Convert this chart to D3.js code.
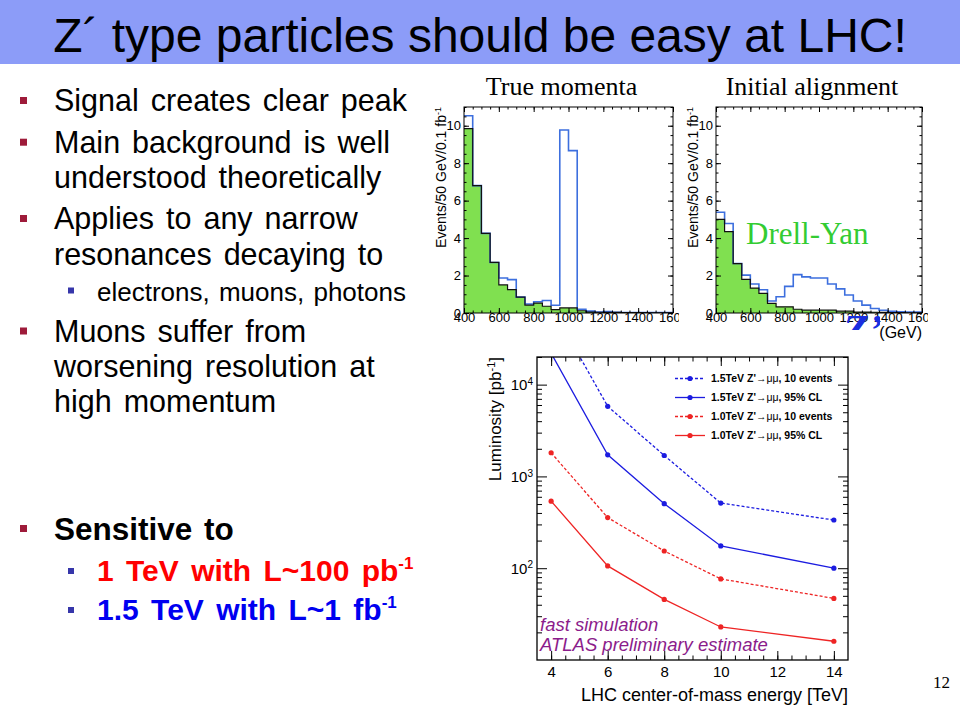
<!DOCTYPE html>
<html>
<head>
<meta charset="utf-8">
<script src="https://cdn.jsdelivr.net/npm/d3@7"></script>
<style>
body { margin: 0; background: #fff; }
svg { display: block; }
</style>
</head>
<body>
<script>
// ---- data ----
// lower bin edges of the mass histograms (GeV), 50 GeV bins
var massBins = [400,450,500,550,600,650,700,750,800,850,900,950,1000,1050,1100,1150,1200,1250,1300,1350,1400,1450,1500,1550];
// "True momenta": Drell-Yan background and background + Z' signal
var trueBg    = [9.85,6.8,4.25,2.7,1.5,1.25,0.85,0.42,0.53,0.36,0.18,0.27,0.27,0.12,0.05,0.04,0.03,0.03,0.02,0.02,0.02,0.01,0.01,0.01];
var trueTotal = [10.53,6.8,4.25,2.7,1.87,1.78,0.85,0.48,0.6,0.67,0.41,9.77,8.67,0.2,0.1,0.05,0.08,0.04,0.03,0.03,0.03,0.02,0.02,0.02];
// "Initial alignment"
var alignBg    = [5.0,4.35,2.64,1.8,1.33,1.05,0.51,0.33,0.33,0.2,0.15,0.15,0.15,0.15,0.1,0.1,0.05,0.05,0.04,0.03,0.02,0.02,0.01,0.01];
var alignTotal = [5.38,4.78,2.64,2.02,1.55,1.24,0.64,0.87,1.42,2.05,1.93,1.87,1.87,1.55,1.29,0.96,0.64,0.42,0.24,0.15,0.09,0.06,0.05,0.05];

// luminosity needed vs LHC energy
var energies   = [4,6,8,10,14];
var lumi15ev   = [72000,5810,1690,513,335];
var lumi15cl   = [22000,1720,505,175,100];
var lumi10ev   = [1810,356,154,76.5,46.9];
var lumi10cl   = [538,106,45.7,22.9,16];
var lumiSeries = [
  {mass:'1.5TeV', what:', 10 events', vals:lumi15ev, color:'#1c1ce0', dash:'3,2'},
  {mass:'1.5TeV', what:', 95% CL',    vals:lumi15cl, color:'#1c1ce0', dash:null},
  {mass:'1.0TeV', what:', 10 events', vals:lumi10ev, color:'#ee2424', dash:'3,2'},
  {mass:'1.0TeV', what:', 95% CL',    vals:lumi10cl, color:'#ee2424', dash:null}
];

var SANS = 'Liberation Sans, Arial, sans-serif';
var SERIF = 'Liberation Serif, Times New Roman, serif';

var svg = d3.select('body').append('svg').attr('width', 960).attr('height', 720);
var defs = svg.append('defs');

// ---- title bar ----
svg.append('rect').attr('width', 960).attr('height', 64).attr('fill', '#8c9cf8');
svg.append('text').attr('x', 480).attr('y', 52).attr('text-anchor', 'middle')
  .attr('font-family', SANS).attr('font-size', 48).attr('fill', '#000')
  .text('Z\u00b4 type particles should be easy at LHC!');

// ---- bullet list ----
var bullets = [
  {lvl:1, text:'Signal creates clear peak'},
  {lvl:1, text:'Main background is well'},
  {lvl:0, text:'understood theoretically'},
  {lvl:1, text:'Applies to any narrow'},
  {lvl:0, text:'resonances decaying to'},
  {lvl:2, text:'electrons, muons, photons'},
  {lvl:1, text:'Muons suffer from'},
  {lvl:0, text:'worsening resolution at'},
  {lvl:0, text:'high momentum'}
];
var bulletY = [111,152.7,188,229,264.5,300.5,341.5,377,412];

var bl = svg.append('g').attr('font-family', SANS).attr('fill', '#000');
bullets.forEach(function(b, i) {
  var y = bulletY[i];
  if (b.lvl == 1) bl.append('rect').attr('x', 20).attr('y', y - 14).attr('width', 7).attr('height', 7).attr('fill', '#9e1b3a');
  if (b.lvl == 2) bl.append('rect').attr('x', 68).attr('y', y - 13).attr('width', 6).attr('height', 6).attr('fill', '#3636aa');
  bl.append('text').attr('x', b.lvl == 2 ? 97 : 54).attr('y', y)
    .attr('font-size', b.lvl == 2 ? 26 : 30.5).attr('word-spacing', b.lvl == 2 ? 2 : 3.5).text(b.text);
});

// "Sensitive to" block
bl.append('rect').attr('x', 20).attr('y', 525).attr('width', 7).attr('height', 7).attr('fill', '#9e1b3a');
bl.append('text').attr('x', 54).attr('y', 540).attr('font-size', 31.5).attr('font-weight', 'bold')
  .attr('word-spacing', 3).text('Sensitive to');
var sens = [
  {text:'1 TeV with L~100 pb', sup:'-1', color:'#ff0000', y:581},
  {text:'1.5 TeV with L~1 fb', sup:'-1', color:'#0000f0', y:620}
];
sens.forEach(function(s) {
  bl.append('rect').attr('x', 68).attr('y', s.y - 13).attr('width', 6).attr('height', 6).attr('fill', '#3636aa');
  var t = bl.append('text').attr('x', 97).attr('y', s.y).attr('font-size', 30).attr('font-weight', 'bold')
    .attr('word-spacing', 4).attr('fill', s.color);
  t.append('tspan').text(s.text);
  t.append('tspan').attr('dy', -12).attr('font-size', 17).text(s.sup);
});

// page number
svg.append('text').attr('x', 950).attr('y', 688).attr('text-anchor', 'end')
  .attr('font-family', SERIF).attr('font-size', 17).text('12');

// ---- mass histograms ----
function drawHist(id, x0, x1, bg, total, title, clipRight) {
  var x = d3.scaleLinear().domain([400, 1600]).range([x0, x1]);
  var y = d3.scaleLinear().domain([0, 11]).range([313, 107]);

  defs.append('clipPath').attr('id', 'frame' + id).append('rect')
    .attr('x', x0).attr('y', 107).attr('width', x1 - x0).attr('height', 206);
  defs.append('clipPath').attr('id', 'cut' + id).append('rect')
    .attr('x', x0 - 60).attr('y', 60).attr('width', clipRight - x0 + 60).attr('height', 300);

  var g = svg.append('g').attr('clip-path', 'url(#cut' + id + ')');

  svg.append('text').attr('x', (x0 + x1) / 2 - 7).attr('y', 95).attr('text-anchor', 'middle')
    .attr('font-family', SERIF).attr('font-size', 26).text(title);

  function pts(vals) {
    var p = massBins.map(function(b, i) { return [b, vals[i]]; });
    p.push([1600, vals[vals.length - 1]]);
    return p;
  }
  var plot = g.append('g').attr('clip-path', 'url(#frame' + id + ')');
  plot.append('path').datum(pts(bg))
    .attr('d', d3.area().curve(d3.curveStepAfter).x(function(d) { return x(d[0]); }).y0(y(0)).y1(function(d) { return y(d[1]); }))
    .attr('fill', '#80e050');
  var line = d3.line().curve(d3.curveStepAfter).x(function(d) { return x(d[0]); }).y(function(d) { return y(d[1]); });
  plot.append('path').datum(pts(total)).attr('d', line).attr('fill', 'none').attr('stroke', '#3d6fde').attr('stroke-width', 1.6);
  plot.append('path').datum(pts(bg)).attr('d', line).attr('fill', 'none').attr('stroke', '#111').attr('stroke-width', 1.2);

  // axes with inward ROOT-like ticks
  var majorX = [400,600,800,1000,1200,1400,1600];
  var minorX = massBins.concat([1600]);
  var majorY = [0,2,4,6,8,10];
  var minorY = d3.range(0, 11.01, 0.5);
  function ax(sel) { sel.select('.domain').remove(); sel.attr('font-family', SANS).attr('font-size', 13); sel.selectAll('line').attr('stroke', '#000'); }
  g.append('g').attr('transform', 'translate(0,313)').call(d3.axisBottom(x).tickValues(majorX).tickSize(-5).tickPadding(0).tickFormat(d3.format('d'))).call(ax);
  g.append('g').attr('transform', 'translate(0,313)').call(d3.axisBottom(x).tickValues(minorX).tickSize(-2.5).tickFormat('')).call(ax);
  g.append('g').attr('transform', 'translate(0,107)').call(d3.axisTop(x).tickValues(majorX).tickSize(-5).tickFormat('')).call(ax);
  g.append('g').attr('transform', 'translate(0,107)').call(d3.axisTop(x).tickValues(minorX).tickSize(-2.5).tickFormat('')).call(ax);
  g.append('g').attr('transform', 'translate(' + x0 + ',0)').call(d3.axisLeft(y).tickValues(majorY).tickSize(-5).tickPadding(3)).call(ax);
  g.append('g').attr('transform', 'translate(' + x0 + ',0)').call(d3.axisLeft(y).tickValues(minorY).tickSize(-2.5).tickFormat('')).call(ax);
  g.append('g').attr('transform', 'translate(' + x1 + ',0)').call(d3.axisRight(y).tickValues(majorY).tickSize(-5).tickFormat('')).call(ax);
  g.append('g').attr('transform', 'translate(' + x1 + ',0)').call(d3.axisRight(y).tickValues(minorY).tickSize(-2.5).tickFormat('')).call(ax);

  g.append('rect').attr('x', x0).attr('y', 107).attr('width', x1 - x0).attr('height', 206)
    .attr('fill', 'none').attr('stroke', '#000').attr('stroke-width', 1);

  var yl = g.append('text').attr('transform', 'translate(' + (x0 - 18) + ',107) rotate(-90)')
    .attr('text-anchor', 'end').attr('font-family', SANS).attr('font-size', 14);
  yl.append('tspan').text('Events/50 GeV/0.1 fb');
  yl.append('tspan').attr('dy', -5).attr('font-size', 9).text('-1');
  return g;
}

drawHist(1, 464, 673, trueBg, trueTotal, 'True momenta', 679);
drawHist(2, 716, 922, alignBg, alignTotal, 'Initial alignment', 928);

svg.append('text').attr('x', 746).attr('y', 244).attr('font-family', SERIF).attr('font-size', 31)
  .attr('fill', '#33cc33').text('Drell-Yan');
svg.append('text').attr('x', 922).attr('y', 338).attr('text-anchor', 'end')
  .attr('font-family', SANS).attr('font-size', 16).text('(GeV)');
defs.append('clipPath').attr('id', 'zcut').append('rect').attr('x', 840).attr('y', 314).attr('width', 40).attr('height', 16);
svg.append('text').attr('x', 843).attr('y', 344).attr('clip-path', 'url(#zcut)')
  .attr('font-family', SERIF).attr('font-style', 'italic').attr('font-weight', 'bold')
  .attr('font-size', 42).attr('fill', '#1a2ee0').text('Z\u2019');

// ---- luminosity plot ----
var L = {x0: 537, x1: 848, y0: 357, y1: 660};
var lx = d3.scaleLinear().domain([3.5, 14.5]).range([L.x0, L.x1]);
var ly = d3.scaleLog().domain([10, 2e4]).range([L.y1, L.y0]);

defs.append('clipPath').attr('id', 'lumiframe').append('rect')
  .attr('x', L.x0).attr('y', L.y0).attr('width', L.x1 - L.x0).attr('height', L.y1 - L.y0);

var lg = svg.append('g');
var lp = lg.append('g').attr('clip-path', 'url(#lumiframe)');
lumiSeries.forEach(function(s) {
  var pts = energies.map(function(e, i) { return [e, s.vals[i]]; });
  lp.append('path').datum(pts)
    .attr('d', d3.line().x(function(d) { return lx(d[0]); }).y(function(d) { return ly(d[1]); }))
    .attr('fill', 'none').attr('stroke', s.color).attr('stroke-width', 1.3)
    .attr('stroke-dasharray', s.dash);
  lp.selectAll(null).data(pts).enter().append('circle')
    .attr('cx', function(d) { return lx(d[0]); }).attr('cy', function(d) { return ly(d[1]); })
    .attr('r', 2.6).attr('fill', s.color);
});

function lax(sel) { sel.select('.domain').remove(); sel.attr('font-family', SANS).attr('font-size', 15); sel.selectAll('line').attr('stroke', '#000'); }
var lMajorX = [4,6,8,10,12,14];
var lMinorX = d3.range(4, 14.5, 0.5);
var lMajorY = [100, 1000, 10000];
var lMinorY = [20,30,40,50,60,70,80,90,200,300,400,500,600,700,800,900,2000,3000,4000,5000,6000,7000,8000,9000,20000];
lg.append('g').attr('transform', 'translate(0,' + L.y1 + ')').call(d3.axisBottom(lx).tickValues(lMajorX).tickSize(-9).tickPadding(6).tickFormat(d3.format('d'))).call(lax);
lg.append('g').attr('transform', 'translate(0,' + L.y1 + ')').call(d3.axisBottom(lx).tickValues(lMinorX).tickSize(-4.5).tickFormat('')).call(lax);
lg.append('g').attr('transform', 'translate(0,' + L.y0 + ')').call(d3.axisTop(lx).tickValues(lMajorX).tickSize(-9).tickFormat('')).call(lax);
lg.append('g').attr('transform', 'translate(0,' + L.y0 + ')').call(d3.axisTop(lx).tickValues(lMinorX).tickSize(-4.5).tickFormat('')).call(lax);
var yAxisL = lg.append('g').attr('transform', 'translate(' + L.x0 + ',0)')
  .call(d3.axisLeft(ly).tickValues(lMajorY).tickSize(-10).tickPadding(5).tickFormat('')).call(lax);
lg.append('g').attr('transform', 'translate(' + L.x0 + ',0)').call(d3.axisLeft(ly).tickValues(lMinorY).tickSize(-5).tickFormat('')).call(lax);
lg.append('g').attr('transform', 'translate(' + L.x1 + ',0)').call(d3.axisRight(ly).tickValues(lMajorY).tickSize(-10).tickFormat('')).call(lax);
lg.append('g').attr('transform', 'translate(' + L.x1 + ',0)').call(d3.axisRight(ly).tickValues(lMinorY).tickSize(-5).tickFormat('')).call(lax);
// 10^n labels
yAxisL.selectAll('.tick text').each(function(d) {
  var t = d3.select(this).attr('x', -4).attr('dy', '0.35em');
  t.append('tspan').text('10');
  t.append('tspan').attr('dy', '-0.55em').attr('font-size', 10).text(Math.round(Math.log10(d)));
});

lg.append('rect').attr('x', L.x0).attr('y', L.y0).attr('width', L.x1 - L.x0).attr('height', L.y1 - L.y0)
  .attr('fill', 'none').attr('stroke', '#000').attr('stroke-width', 1.3);

var lyl = lg.append('text').attr('transform', 'translate(501,' + L.y0 + ') rotate(-90)')
  .attr('text-anchor', 'end').attr('font-family', SANS).attr('font-size', 17);
lyl.append('tspan').text('Luminosity [pb');
lyl.append('tspan').attr('dy', -6).attr('font-size', 11).text('-1');
lyl.append('tspan').attr('dy', 6).text(']');

lg.append('text').attr('x', L.x1).attr('y', 701).attr('text-anchor', 'end')
  .attr('font-family', SANS).attr('font-size', 18).text('LHC center-of-mass energy [TeV]');

// legend
var leg = lg.append('g').attr('font-family', SANS).attr('font-size', 10.5);
lumiSeries.forEach(function(s, i) {
  var y = 378.5 + i * 19;
  leg.append('line').attr('x1', 675).attr('x2', 705).attr('y1', y).attr('y2', y)
    .attr('stroke', s.color).attr('stroke-width', 1.3).attr('stroke-dasharray', s.dash);
  leg.append('circle').attr('cx', 690).attr('cy', y).attr('r', 2.6).attr('fill', s.color);
  var t = leg.append('text').attr('x', 711).attr('y', y + 3.8);
  t.append('tspan').attr('font-weight', 'bold').text(s.mass + ' Z\'');
  t.append('tspan').text('\u2192\u03bc\u03bc');
  t.append('tspan').attr('font-weight', 'bold').text(s.what);
});

// annotation
var ann = lg.append('g').attr('font-family', SANS).attr('font-style', 'italic')
  .attr('font-size', 18.5).attr('fill', '#8b1c8b');
ann.append('text').attr('x', 540).attr('y', 631).text('fast simulation');
ann.append('text').attr('x', 540).attr('y', 651).text('ATLAS preliminary estimate');
</script>
</body>
</html>
